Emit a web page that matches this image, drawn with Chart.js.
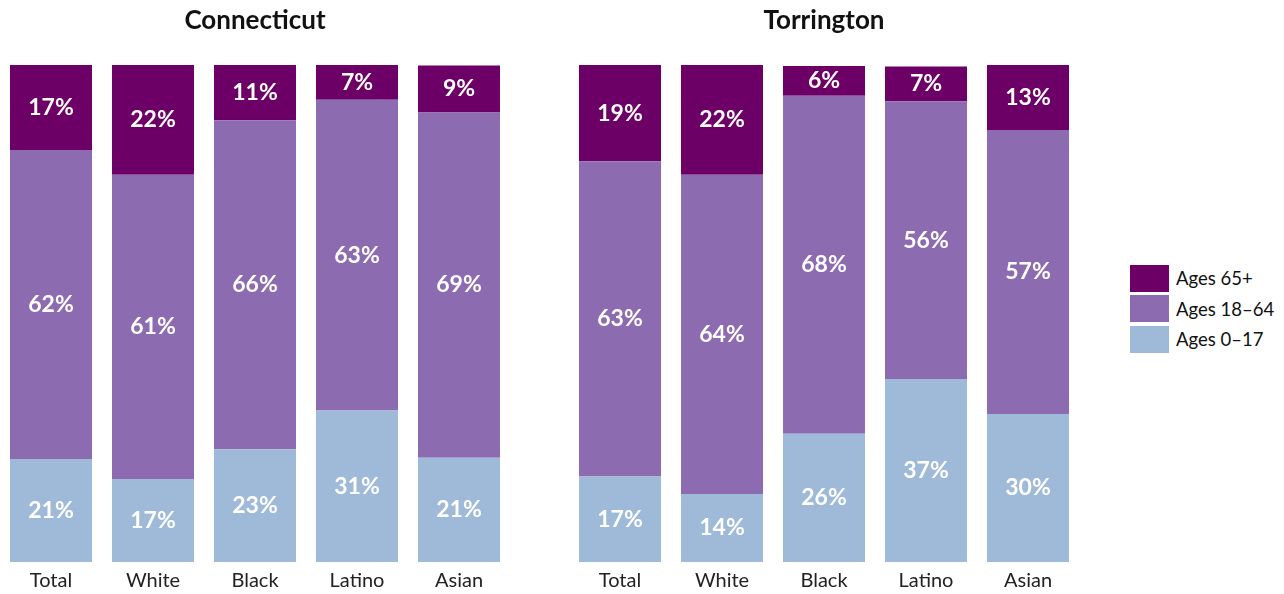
<!DOCTYPE html>
<html>
<head>
<meta charset="utf-8">
<script src="https://cdn.jsdelivr.net/npm/chart.js@4"></script>
<style>
  body { margin: 0; background: #fff; font-family: Lato, sans-serif; overflow: hidden; }
  #wrap { position: relative; width: 1284px; height: 594px; overflow: hidden; }
  .panel { position: absolute; top: 0; width: 510px; height: 600px; }
  #legend { position: absolute; left: 1130px; top: 263px; }
  .item { display: flex; align-items: center; height: 30.5px; font-size: 18.5px; color: #111; }
  .box { width: 39px; height: 27px; margin-right: 7px; }
</style>
</head>
<body>
<div id="wrap">
  <div class="panel" style="left:0"><canvas id="ct"></canvas></div>
  <div class="panel" style="left:569px"><canvas id="tor"></canvas></div>
  <div id="legend"></div>
</div>
<script>
// categorias e valores (%)
const categorias = ["Total", "White", "Black", "Latino", "Asian"];
const seriesNomes = ["Ages 0\u201317", "Ages 18\u201364", "Ages 65+"];
const cores = ["#9ebad8", "#8c6bb1", "#6d0066"];

const ctAges0_17 = [20.7, 16.7, 22.7, 30.5, 21.0];
const ctAges18_64 = [62.2, 61.2, 66.2, 62.5, 69.45];
const ctAges65 = [17.1, 22.1, 11.1, 7.0, 9.45];

const torAges0_17 = [17.2, 13.7, 25.8, 36.8, 29.8];
const torAges18_64 = [63.45, 64.2, 68.0, 55.9, 57.1];
const torAges65 = [19.35, 22.1, 6.0, 7.0, 13.1];

// Plugin simples para escrever os valores dentro das barras
const rotulos = {
  id: "rotulos",
  afterDatasetsDraw(chart) {
    const ctx = chart.ctx;
    ctx.save();
    ctx.fillStyle = "#fff";
    ctx.font = "bold 23px Lato, sans-serif";
    ctx.textAlign = "center";
    ctx.textBaseline = "middle";
    chart.data.datasets.forEach((ds, i) => {
      chart.getDatasetMeta(i).data.forEach((bar, j) => {
        const y = (bar.y + bar.base) / 2;
        ctx.fillText(Math.round(ds.data[j]) + "%", bar.x, y);
      });
    });
    ctx.restore();
  }
};

function criarGrafico(id, titulo, series) {
  return new Chart(document.getElementById(id), {
    type: "bar",
    data: {
      labels: categorias,
      datasets: series.map((d, i) => ({
        label: seriesNomes[i],
        data: d,
        backgroundColor: cores[i],
        borderWidth: 0,
        barPercentage: 0.804,
        categoryPercentage: 1
      }))
    },
    options: {
      responsive: true,
      maintainAspectRatio: false,
      animation: false,
      layout: { padding: 0 },
      plugins: {
        legend: { display: false },
        tooltip: { enabled: false },
        title: {
          display: true,
          text: titulo,
          color: "#111",
          font: { family: "Lato", size: 26, weight: "bold" },
          padding: { top: 5.4, bottom: 28.4 }
        }
      },
      scales: {
        x: {
          stacked: true,
          grid: { display: false, drawTicks: false },
          border: { display: false },
          ticks: { color: "#222", padding: 7, font: { family: "Lato", size: 20 } }
        },
        y: {
          stacked: true,
          display: false,
          min: 0,
          max: 100
        }
      }
    },
    plugins: [rotulos]
  });
}

criarGrafico("ct", "Connecticut", [ctAges0_17, ctAges18_64, ctAges65]);
criarGrafico("tor", "Torrington", [torAges0_17, torAges18_64, torAges65]);

// Legenda em HTML (ordem de cima para baixo)
const legenda = document.getElementById("legend");
[2, 1, 0].forEach(i => {
  const el = document.createElement("div");
  el.className = "item";
  el.innerHTML = '<span class="box" style="background:' + cores[i] + '"></span>' + seriesNomes[i];
  legenda.appendChild(el);
});
</script>
</body>
</html>
